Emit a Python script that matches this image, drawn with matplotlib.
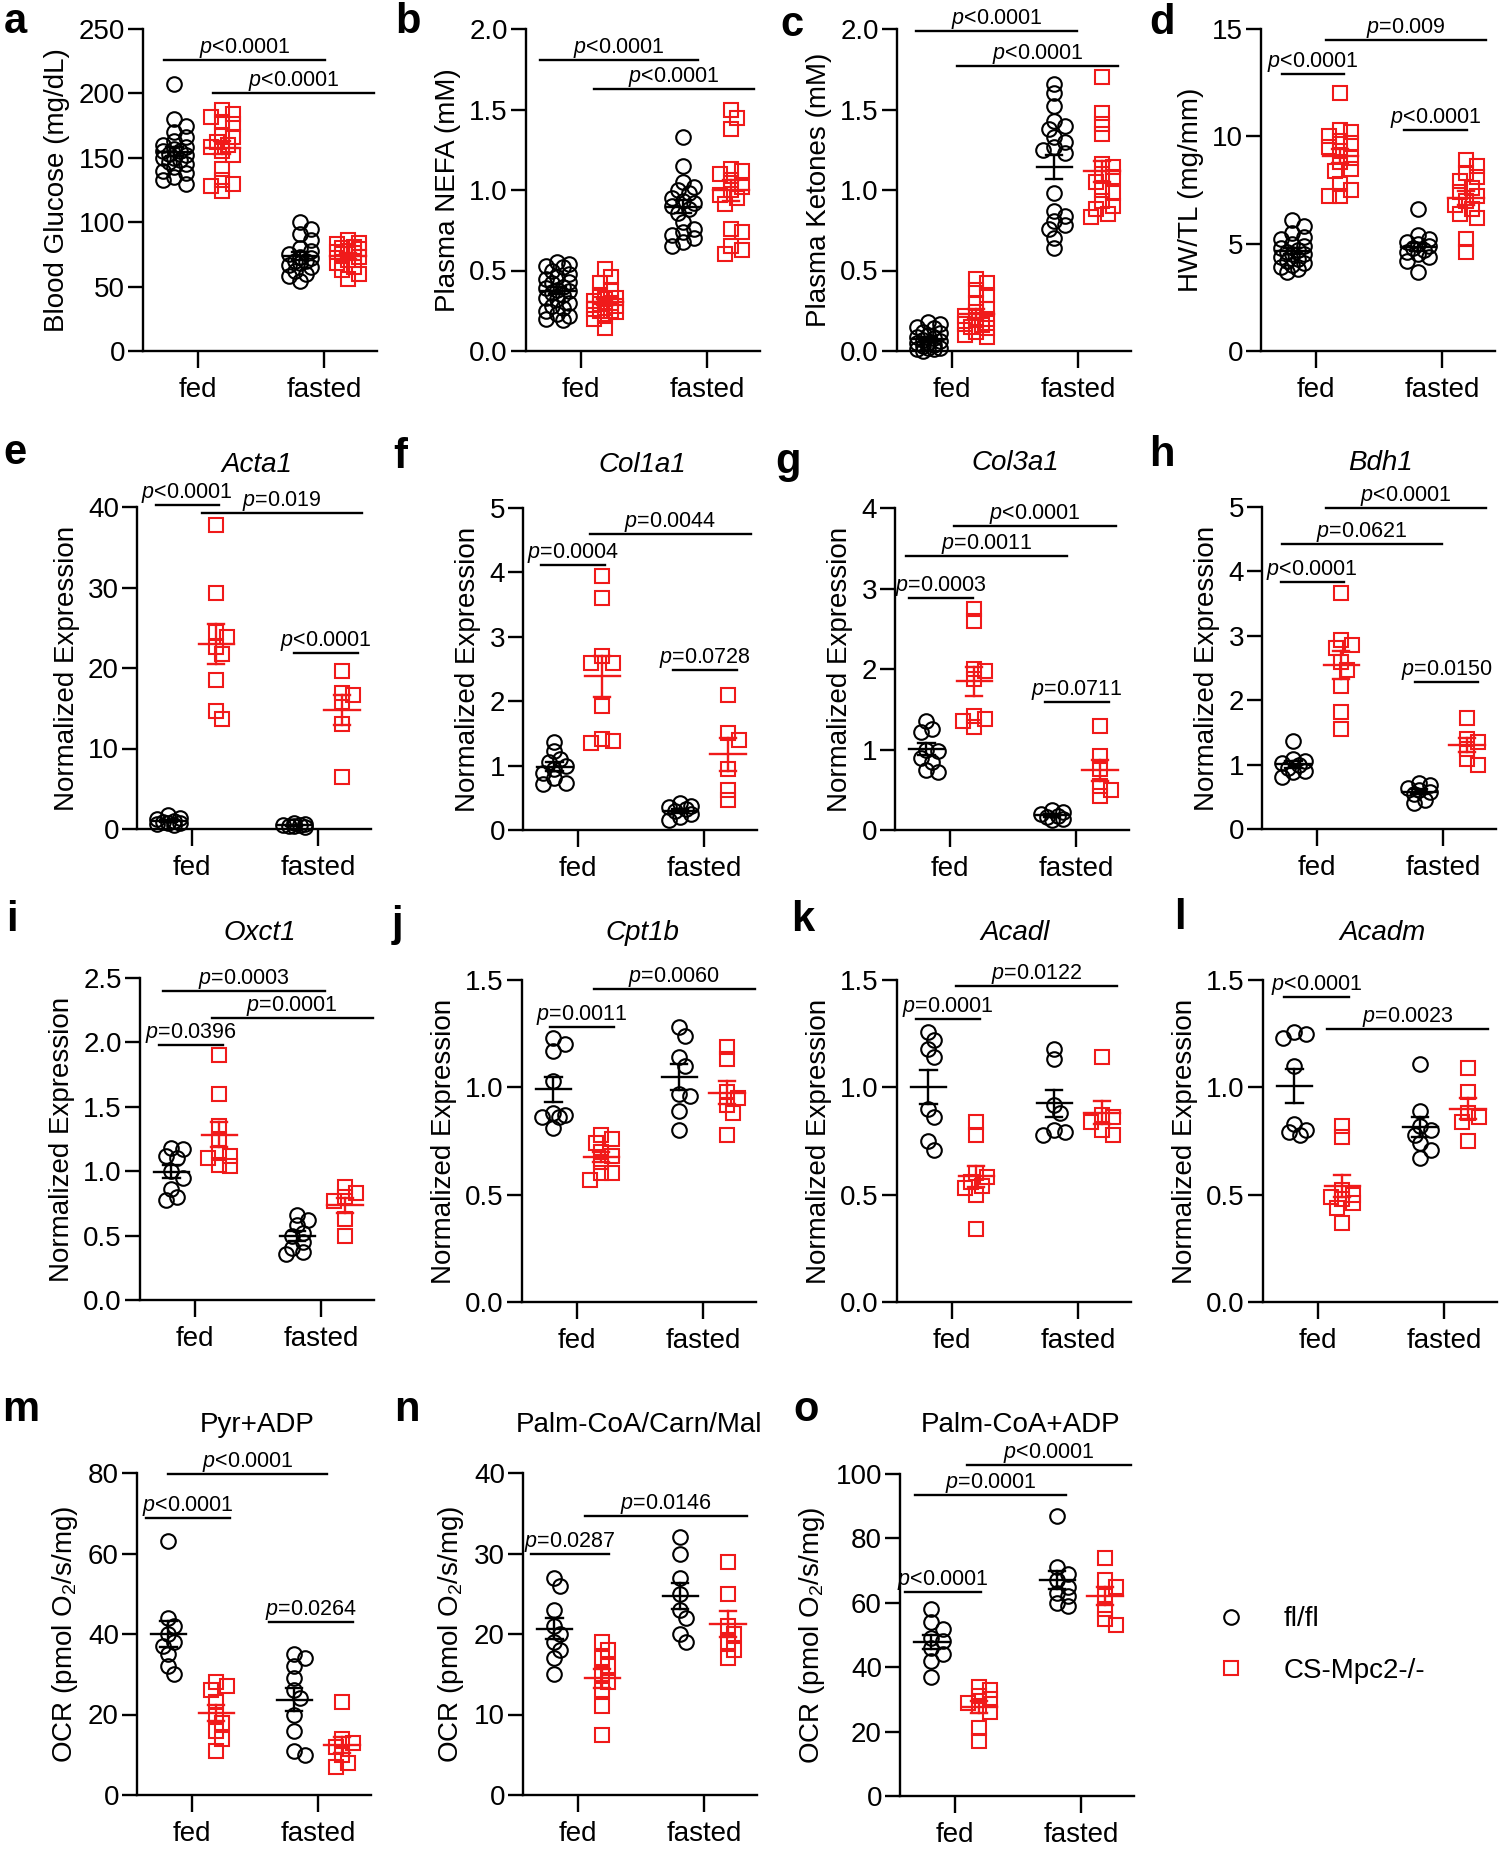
import numpy as np
import matplotlib
matplotlib.use("Agg")
import matplotlib.pyplot as plt
from matplotlib.lines import Line2D
from matplotlib.ticker import FormatStrFormatter

plt.rcParams['font.family'] = ['Liberation Sans', 'DejaVu Sans']
plt.rcParams['mathtext.fontset'] = 'custom'
plt.rcParams['mathtext.rm'] = 'Liberation Sans'
plt.rcParams['mathtext.it'] = 'Liberation Sans:italic'

conditions = ["fed", "fasted"]
genotypes = ["fl/fl", "CS-Mpc2-/-"]

# each panel: [fed fl/fl, fed CS-Mpc2-/-, fasted fl/fl, fasted CS-Mpc2-/-]
glucose = [
    [207, 180, 175, 170, 166, 163, 160, 158, 157, 155, 155, 153, 152, 150, 150, 148, 147, 145, 143, 140, 138, 135, 133, 130],
    [187, 184, 182, 178, 176, 168, 166, 162, 160, 158, 155, 152, 141, 133, 130, 128, 124],
    [100, 95, 91, 86, 80, 78, 75, 73, 72, 70, 70, 68, 67, 65, 62, 60, 58, 54],
    [86, 84, 83, 81, 80, 79, 78, 77, 76, 75, 73, 71, 68, 65, 63, 60, 56],
]
nefa = [
    [0.55, 0.54, 0.53, 0.52, 0.50, 0.48, 0.46, 0.45, 0.43, 0.42, 0.40, 0.39, 0.38, 0.37, 0.36, 0.35, 0.33, 0.32, 0.30, 0.28, 0.27, 0.25, 0.23, 0.22, 0.20, 0.19],
    [0.51, 0.46, 0.42, 0.38, 0.35, 0.33, 0.32, 0.31, 0.30, 0.29, 0.28, 0.27, 0.26, 0.25, 0.25, 0.24, 0.22, 0.20, 0.14],
    [1.33, 1.15, 1.05, 1.02, 1.00, 0.98, 0.95, 0.93, 0.92, 0.90, 0.88, 0.86, 0.80, 0.76, 0.74, 0.72, 0.70, 0.68, 0.65],
    [1.50, 1.45, 1.38, 1.13, 1.12, 1.10, 1.06, 1.02, 1.00, 0.97, 0.95, 0.91, 0.76, 0.74, 0.65, 0.63, 0.60],
]
ketones = [
    [0.18, 0.17, 0.15, 0.14, 0.12, 0.11, 0.10, 0.09, 0.08, 0.07, 0.06, 0.05, 0.05, 0.04, 0.03, 0.02, 0.02, 0.01, 0.01, 0.00],
    [0.45, 0.42, 0.38, 0.35, 0.30, 0.26, 0.24, 0.22, 0.20, 0.19, 0.17, 0.16, 0.15, 0.14, 0.12, 0.10, 0.09],
    [1.66, 1.60, 1.52, 1.43, 1.40, 1.38, 1.33, 1.30, 1.27, 1.25, 1.23, 0.98, 0.87, 0.84, 0.81, 0.78, 0.76, 0.70, 0.64],
    [1.70, 1.48, 1.41, 1.35, 1.16, 1.14, 1.10, 1.08, 1.05, 1.00, 0.98, 0.93, 0.90, 0.88, 0.85, 0.83],
]
hwtl = [
    [6.1, 5.8, 5.5, 5.3, 5.2, 5.0, 4.9, 4.8, 4.7, 4.6, 4.5, 4.5, 4.4, 4.3, 4.2, 4.1, 4.0, 3.9, 3.8, 3.7],
    [12.0, 10.3, 10.2, 10.0, 9.8, 9.7, 9.5, 9.3, 9.0, 8.8, 8.5, 8.4, 7.8, 7.5, 7.2, 7.2],
    [6.6, 5.4, 5.2, 5.1, 5.0, 4.9, 4.8, 4.7, 4.6, 4.5, 4.4, 4.2, 3.7],
    [8.9, 8.6, 8.3, 8.1, 7.9, 7.6, 7.4, 7.2, 7.0, 6.8, 6.6, 6.4, 6.2, 5.2, 4.6],
]
acta1 = [
    [1.8, 1.4, 1.2, 1.0, 0.9, 0.8, 0.7, 0.6, 0.5],
    [37.8, 29.3, 24.5, 23.8, 22.6, 21.7, 18.5, 14.7, 13.7],
    [0.7, 0.6, 0.5, 0.45, 0.4, 0.35, 0.3],
    [19.6, 16.9, 16.6, 15.8, 13.0, 6.5],
]
col1a1 = [
    [1.37, 1.22, 1.10, 1.05, 1.00, 0.95, 0.88, 0.80, 0.73, 0.72],
    [3.94, 3.60, 2.70, 2.60, 2.60, 1.92, 1.42, 1.38, 1.35],
    [0.42, 0.38, 0.35, 0.32, 0.30, 0.25, 0.20, 0.15],
    [2.10, 1.50, 1.40, 0.95, 0.62, 0.47],
]
col3a1 = [
    [1.35, 1.25, 1.22, 1.00, 0.98, 0.90, 0.85, 0.75, 0.72],
    [2.74, 2.60, 2.00, 1.98, 1.88, 1.42, 1.38, 1.35, 1.28],
    [0.25, 0.22, 0.20, 0.18, 0.16, 0.14, 0.12],
    [1.29, 0.92, 0.76, 0.55, 0.50, 0.42],
]
bdh1 = [
    [1.37, 1.08, 1.05, 1.02, 1.00, 0.95, 0.90, 0.88, 0.80],
    [3.66, 2.94, 2.86, 2.81, 2.60, 2.47, 2.22, 1.81, 1.55],
    [0.72, 0.68, 0.64, 0.60, 0.57, 0.55, 0.45, 0.41],
    [1.73, 1.40, 1.35, 1.25, 1.08, 1.00],
]
oxct1 = [
    [1.18, 1.17, 1.12, 1.10, 1.00, 0.95, 0.86, 0.80, 0.78],
    [1.90, 1.60, 1.35, 1.25, 1.14, 1.12, 1.10, 1.05, 1.04],
    [0.66, 0.62, 0.58, 0.52, 0.50, 0.45, 0.40, 0.37, 0.36],
    [0.88, 0.83, 0.80, 0.77, 0.63, 0.50],
]
cpt1b = [
    [1.23, 1.20, 1.17, 1.03, 0.88, 0.87, 0.86, 0.86, 0.81],
    [0.78, 0.76, 0.74, 0.70, 0.68, 0.65, 0.60, 0.60, 0.57],
    [1.28, 1.24, 1.14, 1.10, 0.97, 0.96, 0.89, 0.80],
    [1.19, 1.13, 0.98, 0.95, 0.92, 0.88, 0.78],
]
acadl = [
    [1.26, 1.22, 1.18, 1.14, 0.90, 0.86, 0.75, 0.71],
    [0.84, 0.78, 0.60, 0.58, 0.56, 0.54, 0.53, 0.50, 0.34],
    [1.18, 1.13, 0.92, 0.88, 0.80, 0.79, 0.78],
    [1.14, 0.87, 0.86, 0.84, 0.80, 0.78],
]
acadm = [
    [1.26, 1.25, 1.23, 1.10, 0.83, 0.80, 0.79, 0.78],
    [0.82, 0.77, 0.52, 0.50, 0.49, 0.48, 0.46, 0.44, 0.37],
    [1.11, 0.89, 0.82, 0.80, 0.78, 0.74, 0.71, 0.67],
    [1.09, 0.98, 0.88, 0.86, 0.84, 0.75],
]
pyr_adp = [
    [63, 44, 42, 40, 38, 37, 35, 32, 30],
    [28, 27, 26, 23, 20, 18, 16, 14, 11],
    [35, 34, 32, 29, 26, 24, 20, 16, 11, 10],
    [23, 14, 13, 12, 10, 8, 7],
]
palm_carn_mal = [
    [27, 26, 23, 21, 20, 19, 18, 17, 15],
    [19, 18, 17, 16, 15, 14, 13, 11, 7.5],
    [32, 30, 27, 25, 23, 22, 20, 19],
    [29, 25, 21, 20, 19, 18, 17],
]
palm_adp = [
    [58, 54, 52, 49, 48, 46, 44, 42, 37],
    [34, 33, 31, 30, 29, 28, 26, 21, 17],
    [87, 71, 69, 67, 65, 63, 62, 60, 59],
    [74, 67, 65, 62, 58, 55, 53],
]

# significance bars: (x from, x to, y, label)
sig_a = [(-0.27, 1.01, 226, "<0.0001"), (0.12, 1.40, 200, "<0.0001")]
sig_b = [(-0.33, 0.93, 1.81, "<0.0001"), (0.10, 1.37, 1.63, "<0.0001")]
sig_c = [(-0.29, 0.99, 1.99, "<0.0001"), (0.04, 1.32, 1.77, "<0.0001")]
sig_d = [(0.08, 1.35, 14.5, "=0.009"), (-0.27, 0.22, 12.9, "<0.0001"), (0.70, 1.20, 10.3, "<0.0001")]
sig_e = [(-0.29, 0.21, 40.2, "<0.0001"), (0.08, 1.35, 39.2, "=0.019"), (0.81, 1.32, 21.9, "<0.0001")]
sig_f = [(-0.30, 0.21, 4.12, "=0.0004"), (0.09, 1.37, 4.59, "=0.0044"), (0.75, 1.26, 2.49, "=0.0728")]
sig_g = [(-0.33, 0.18, 2.88, "=0.0003"), (-0.35, 0.93, 3.40, "=0.0011"), (0.03, 1.32, 3.78, "<0.0001"), (0.75, 1.26, 1.59, "=0.0711")]
sig_h = [(-0.29, 0.21, 3.84, "<0.0001"), (-0.28, 0.99, 4.43, "=0.0621"), (0.07, 1.34, 4.98, "<0.0001"), (0.78, 1.28, 2.28, "=0.0150")]
sig_i = [(-0.29, 0.22, 1.98, "=0.0396"), (-0.26, 1.03, 2.40, "=0.0003"), (0.13, 1.41, 2.19, "=0.0001")]
sig_j = [(-0.22, 0.29, 1.28, "=0.0011"), (0.13, 1.41, 1.46, "=0.0060")]
sig_k = [(-0.29, 0.22, 1.32, "=0.0001"), (0.03, 1.31, 1.47, "=0.0122")]
sig_l = [(-0.27, 0.24, 1.42, "<0.0001"), (0.07, 1.35, 1.27, "=0.0023")]
sig_m = [(-0.19, 1.07, 79.7, "<0.0001"), (-0.37, 0.30, 68.8, "<0.0001"), (0.61, 1.28, 43, "=0.0264")]
sig_n = [(-0.38, 0.24, 29.9, "=0.0287"), (0.05, 1.34, 34.7, "=0.0146")]
sig_o = [(-0.40, 0.20, 63.4, "<0.0001"), (-0.32, 0.88, 93.4, "=0.0001"), (0.09, 1.40, 102.9, "<0.0001")]

ocr_label = "OCR (pmol O$_2$/s/mg)"
expr_label = "Normalized Expression"

panels = [
    # letter, data, ylabel, ymax, ystep, fmt, title, sig, (left px, top px), letter px, title px
    ("a", glucose, "Blood Glucose (mg/dL)", 250, 50, "%d", None, sig_a, (143, 29), (15, 22), None),
    ("b", nefa, "Plasma NEFA (mM)", 2.0, 0.5, "%.1f", None, sig_b, (526, 29), (408, 22), None),
    ("c", ketones, "Plasma Ketones (mM)", 2.0, 0.5, "%.1f", None, sig_c, (897, 29), (792, 25), None),
    ("d", hwtl, "HW/TL (mg/mm)", 15, 5, "%d", None, sig_d, (1261, 29), (1162, 23), None),
    ("e", acta1, expr_label, 40, 10, "%d", "Acta1", sig_e, (137, 507), (15, 453), (257, 465)),
    ("f", col1a1, expr_label, 5, 1, "%d", "Col1a1", sig_f, (523, 508), (400, 457), (642, 465)),
    ("g", col3a1, expr_label, 4, 1, "%d", "Col3a1", sig_g, (895, 508), (788, 462), (1015, 463)),
    ("h", bdh1, expr_label, 5, 1, "%d", "Bdh1", sig_h, (1262, 507), (1162, 455), (1380, 463)),
    ("i", oxct1, expr_label, 2.5, 0.5, "%.1f", "Oxct1", sig_i, (140, 978), (12, 920), (260, 933)),
    ("j", cpt1b, expr_label, 1.5, 0.5, "%.1f", "Cpt1b", sig_j, (522, 980), (397, 925), (642, 933)),
    ("k", acadl, expr_label, 1.5, 0.5, "%.1f", "Acadl", sig_k, (897, 980), (803, 920), (1015, 933)),
    ("l", acadm, expr_label, 1.5, 0.5, "%.1f", "Acadm", sig_l, (1263, 980), (1180, 918), (1382, 933)),
    ("m", pyr_adp, ocr_label, 80, 20, "%d", "Pyr+ADP", sig_m, (137, 1473), (21, 1410), (257, 1425)),
    ("n", palm_carn_mal, ocr_label, 40, 10, "%d", "Palm-CoA/Carn/Mal", sig_n, (523, 1473), (407, 1410), (639, 1425)),
    ("o", palm_adp, ocr_label, 100, 20, "%d", "Palm-CoA+ADP", sig_o, (900, 1474), (806, 1410), (1021, 1425)),
]

W, H = 1505, 1850
AX_W, AX_H = 234, 322
XLIM = (-0.44, 1.42)
RED = "#f01a1a"
LW = 1.7


def swarm(vals, ymax, d=14.0, gap=0.62, maxw=13.0):
    # spread points sideways (in pixels) so that markers do not pile up
    ux = (XLIM[1] - XLIM[0]) / AX_W
    uy = ymax / AX_H
    order = np.argsort(-np.asarray(vals))
    cands = [0.0]
    step = d * 0.4
    j = 1
    while j * step <= maxw:
        cands += [j * step, -j * step]
        j += 1
    placed = []
    offs = np.zeros(len(vals))
    for idx in order:
        y = vals[idx] / uy
        best, best_d = 0.0, -1
        for c in cands:
            md = min([np.hypot(c - px, y - py) for px, py in placed] + [1e9])
            if md >= gap * d:
                best = c
                break
            if md > best_d:
                best, best_d = c, md
        placed.append((best, y))
        offs[idx] = best * ux
    return offs


fig = plt.figure(figsize=(W / 100, H / 100), dpi=100)

centers = [-0.19, 0.19, 0.81, 1.19]
for letter, data, ylabel, ymax, ystep, fmt, title, sig, (lx, ty), lpos, tpos in panels:
    ax = fig.add_axes([lx / W, 1 - (ty + AX_H) / H, AX_W / W, AX_H / H])
    for k, vals in enumerate(data):
        vals = np.array(vals, dtype=float)
        xc = centers[k]
        col = "black" if k % 2 == 0 else RED
        mk = "o" if k % 2 == 0 else "s"
        ms = 10.5 if mk == "o" else 9.5
        xs = xc + swarm(vals, ymax)
        ax.plot(xs, vals, ls="none", marker=mk, mfc="none", mec=col, ms=ms, mew=1.5,
                clip_on=False, zorder=2)
        m = vals.mean()
        se = vals.std(ddof=1) / np.sqrt(len(vals))
        ax.plot([xc - 0.14, xc + 0.14], [m, m], color=col, lw=LW, zorder=3)
        ax.plot([xc, xc], [m - se, m + se], color=col, lw=LW, zorder=3)
        for yy in (m - se, m + se):
            ax.plot([xc - 0.065, xc + 0.065], [yy, yy], color=col, lw=LW, zorder=3)

    for x1, x2, yy, lab in sig:
        ax.plot([x1, x2], [yy, yy], color="black", lw=LW, clip_on=False)
        ax.annotate("$p$" + lab, xy=((x1 + x2) / 2, yy), xytext=(0, 5),
                    textcoords="offset points", ha="center", va="baseline",
                    fontsize=15.5, annotation_clip=False)

    ax.set_xlim(*XLIM)
    ax.set_ylim(0, ymax)
    ax.set_yticks(np.arange(0, ymax + ystep / 2, ystep))
    ax.yaxis.set_major_formatter(FormatStrFormatter(fmt))
    ax.set_xticks([0, 1])
    ax.set_xticklabels(conditions)
    ax.spines["top"].set_visible(False)
    ax.spines["right"].set_visible(False)
    ax.spines["left"].set_linewidth(LW)
    ax.spines["bottom"].set_linewidth(LW)
    ax.tick_params(axis="y", length=11, width=LW, labelsize=20, pad=2)
    ax.tick_params(axis="x", length=12, width=LW, labelsize=20, pad=7)
    ax.set_ylabel(ylabel, fontsize=20, labelpad=6)

    fig.text(lpos[0] / W, 1 - lpos[1] / H, letter, fontsize=30, fontweight="bold",
             ha="center", va="center")
    if title is not None:
        style = "normal" if letter in "mno" else "italic"
        fig.text(tpos[0] / W, 1 - tpos[1] / H, title, fontsize=20, style=style,
                 ha="center", va="center")

handles = [
    Line2D([], [], ls="none", marker="o", mfc="none", mec="black", ms=10.5, mew=1.5),
    Line2D([], [], ls="none", marker="s", mfc="none", mec=RED, ms=9.5, mew=1.5),
]
fig.legend(handles, genotypes, loc="center left", bbox_to_anchor=(1200 / W, 1 - 1645 / H),
           frameon=False, fontsize=20, handlelength=1.2, handletextpad=1.3,
           labelspacing=0.9, borderpad=0)

fig.savefig("out.png", dpi=100)
